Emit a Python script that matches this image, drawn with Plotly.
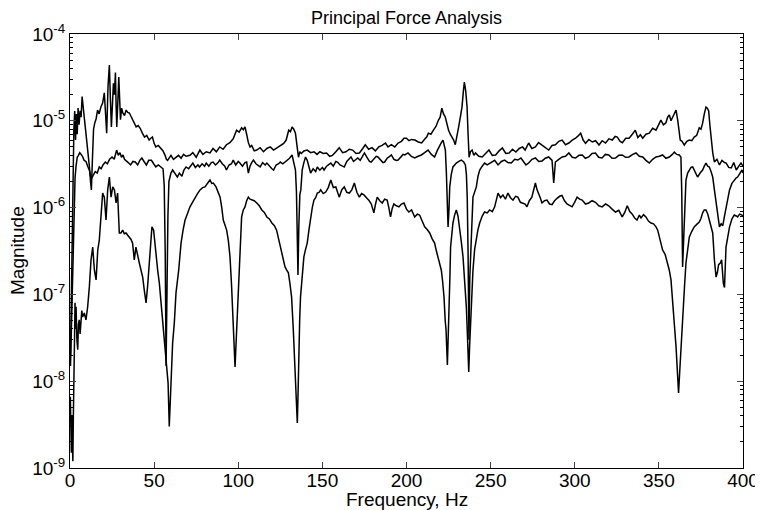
import plotly.graph_objects as go

# ---- data (frequency in Hz, magnitude) ----
freq_a = [0.3,0.8,1.3,1.8,2.3,2.8,3.3,3.8,4.3,4.8,5.4,6.0,6.6,7.2,7.8,8.5,9.5,10.5,11.5,12.2,12.7,13.3,14.0,14.7,15.5,16.4,17.3,18.4,19.4,20.4,21.1,21.8,22.6,23.4,24.0,24.6,25.2,25.8,26.4,27.0,27.4,27.8,28.4,29.0,29.5,30.0,30.7,31.4,32.4,33.4,34.3,35.3,36.3,37.3,38.3,39.3,40.5,41.7,43.0,44.3,45.6,47.0,48.0,49.0,50.0,51.0,52.5,54.0,55.3,56.5,57.3,58.0,59.0,60.0,61.5,63.0,64.5,66.0,67.5,69.0,71.3,73.0,75.0,77.2,79.0,81.0,83.2,85.0,87.0,89.0,91.0,93.0,95.0,97.0,99.0,100.5,102.0,103.0,104.0,105.0,106.0,107.0,108.0,109.5,111.0,113.0,115.0,117.0,119.0,121.0,123.0,125.0,127.0,128.5,130.0,131.0,132.0,133.0,134.0,135.0,135.8,136.6,137.5,139.0,141.0,143.0,145.0,146.8,148.5,150.5,152.5,154.3,156.0,158.0,160.0,162.0,164.0,166.0,168.0,170.0,172.0,174.0,175.5,177.5,179.5,181.5,183.5,185.5,187.5,189.0,191.0,193.0,195.0,197.0,198.5,200.0,201.5,203.0,205.0,207.0,209.0,211.0,212.0,213.0,214.5,216.0,217.5,219.0,220.0,221.0,222.0,223.0,224.0,225.0,226.0,227.0,228.0,229.0,230.0,231.0,232.0,233.0,233.8,234.4,235.2,236.0,236.6,237.2,238.0,239.0,240.0,241.0,243.0,245.0,247.0,249.0,251.0,253.0,255.0,257.0,259.0,261.0,263.0,265.0,267.0,269.0,270.5,272.6,274.5,276.6,278.5,280.6,282.5,284.5,286.5,288.5,290.5,292.5,294.5,296.5,298.5,300.5,302.0,303.5,305.0,306.4,308.4,310.4,312.4,314.4,316.3,318.3,320.3,322.3,324.0,325.3,327.0,328.3,330.3,332.3,334.2,336.0,337.5,339.0,340.4,342.3,344.3,346.3,348.3,350.0,351.2,352.7,354.2,355.2,356.2,357.2,358.2,359.2,360.2,361.2,362.0,362.7,363.8,365.1,366.6,368.1,369.6,371.0,372.5,374.0,375.0,376.0,377.0,378.0,378.8,379.6,380.3,381.0,382.0,383.0,384.5,386.0,387.5,389.0,390.0,391.5,393.0,394.5,396.0,397.5,398.8,400.0]
mag_a = [2e-8,1e-7,6e-7,3e-6,8e-6,1.3e-5,6e-6,1.2e-5,7e-6,1.4e-5,9e-6,1.3e-5,1.1e-5,1.9e-5,1.5e-5,1.0e-5,7.2e-6,5e-6,3e-6,2e-6,1.6e-6,3.5e-6,8e-6,9.4e-6,1.05e-5,1.33e-5,1.2e-5,1.45e-5,1.6e-5,2.1e-5,1.3e-5,7.2e-6,2.5e-5,4.4e-5,1.8e-5,8.5e-6,1.5e-5,2.7e-5,2e-5,3.6e-5,1.5e-5,8.5e-6,1.6e-5,3.2e-5,1.8e-5,1.03e-5,1.4e-5,1.23e-5,1.15e-5,1.33e-5,1.25e-5,1.23e-5,1.12e-5,1.03e-5,9.6e-6,8.5e-6,8.8e-6,8.2e-6,7.2e-6,6.5e-6,6.8e-6,6.0e-6,6.3e-6,6.5e-6,5.5e-6,5.0e-6,5.2e-6,4.8e-6,4.5e-6,4.0e-6,3.6e-6,3.5e-6,3.8e-6,4.0e-6,3.6e-6,3.8e-6,4.0e-6,3.7e-6,4.1e-6,3.9e-6,4.0e-6,4.3e-6,3.8e-6,4.6e-6,4.1e-6,4.4e-6,4.26e-6,4.8e-6,4.4e-6,5.0e-6,4.7e-6,5.3e-6,5.6e-6,6.2e-6,7.8e-6,7.4e-6,8.3e-6,7.9e-6,8.5e-6,7.0e-6,5.6e-6,5.0e-6,5.2e-6,4.5e-6,4.6e-6,4.9e-6,4.4e-6,4.8e-6,5.0e-6,4.6e-6,4.9e-6,5.2e-6,5.5e-6,6.0e-6,7.8e-6,7.5e-6,8.5e-6,8.0e-6,7.2e-6,5.0e-6,3.8e-6,4.4e-6,4.2e-6,4.5e-6,4.6e-6,4.3e-6,4.4e-6,4.1e-6,4.4e-6,4.2e-6,4.26e-6,3.9e-6,4.0e-6,4.4e-6,4.9e-6,4.3e-6,4.4e-6,4.7e-6,4.6e-6,4.2e-6,4.26e-6,4.8e-6,5.3e-6,4.7e-6,4.9e-6,4.5e-6,5.0e-6,5.2e-6,5.55e-6,5.0e-6,5.3e-6,5.0e-6,5.55e-6,5.8e-6,6.3e-6,6.3e-6,5.9e-6,6.1e-6,6.0e-6,5.7e-6,5.55e-6,6.2e-6,6.5e-6,7.2e-6,7.0e-6,7.8e-6,8.6e-6,1.02e-5,1.1e-5,1.4e-5,1.2e-5,1.11e-5,9.0e-6,7.8e-6,7.0e-6,6.5e-6,6.0e-6,5.3e-6,6.5e-6,8.5e-6,1.1e-5,1.45e-5,2.2e-5,2.8e-5,2.2e-5,1.44e-5,7e-6,3.8e-6,4.4e-6,4.6e-6,4.0e-6,4.26e-6,3.9e-6,3.83e-6,4.2e-6,4.6e-6,4.0e-6,4.04e-6,4.5e-6,4.86e-6,4.2e-6,4.26e-6,4.7e-6,4.37e-6,4.8e-6,5.0e-6,4.6e-6,5.55e-6,4.8e-6,5.0e-6,5.6e-6,5.26e-6,4.9e-6,4.6e-6,5.2e-6,5.3e-6,5.8e-6,6.0e-6,5.3e-6,5.55e-6,6.0e-6,6.3e-6,6.7e-6,7.2e-6,6.0e-6,5.5e-6,6.1e-6,5.7e-6,5.9e-6,5.26e-6,5.9e-6,5.55e-6,6.2e-6,6.0e-6,6.6e-6,6.5e-6,5.8e-6,5.6e-6,6.3e-6,6.3e-6,7.0e-6,7.8e-6,6.4e-6,6.9e-6,6.3e-6,7.0e-6,7.2e-6,8.2e-6,7.8e-6,9.0e-6,1.02e-5,9.0e-6,9.5e-6,1.1e-5,1.17e-5,1.0e-5,1.11e-5,1.2e-5,1.33e-5,1.02e-5,7.5e-6,6.0e-6,5.8e-6,5.26e-6,5.8e-6,6.0e-6,5.9e-6,6.5e-6,6.8e-6,8.3e-6,8.0e-6,9.4e-6,1.2e-5,1.44e-5,1.4e-5,1.3e-5,9e-6,6.0e-6,4.3e-6,3.35e-6,3.6e-6,3.1e-6,3.5e-6,3.3e-6,3.26e-6,2.9e-6,2.86e-6,3.3e-6,2.71e-6,3.0e-6,3.26e-6,3.0e-6]

freq_b = [0.3,0.8,1.3,1.8,2.4,3.0,3.6,4.3,5.0,5.8,6.6,7.4,8.4,9.5,10.5,11.5,12.3,13.0,14.0,15.0,16.2,17.4,18.5,19.6,21.0,22.2,23.5,25.0,26.3,27.7,28.7,29.7,30.6,31.5,32.4,33.3,34.6,36.0,37.4,38.8,40.2,41.5,42.7,44.0,45.4,46.8,48.4,49.7,51.0,52.5,54.0,55.3,56.0,56.6,57.1,57.6,58.2,58.8,60.0,61.0,62.5,63.8,65.0,66.5,67.7,69.0,70.5,72.0,73.0,74.5,76.0,77.0,78.5,80.0,81.0,82.5,84.0,85.0,86.5,88.0,89.0,90.5,92.0,93.0,94.5,96.0,97.0,98.5,100.0,101.0,102.5,104.0,105.0,106.0,107.0,108.0,109.0,110.5,112.0,113.0,114.5,116.0,117.0,118.5,120.0,121.0,122.5,124.0,125.0,126.5,128.0,129.0,130.5,132.0,133.0,134.0,134.6,135.1,135.5,136.0,136.6,137.2,138.0,139.0,140.0,141.0,142.0,143.0,144.5,146.0,147.0,148.5,150.0,151.0,152.5,154.0,155.0,156.5,158.0,159.0,160.5,162.0,163.0,164.5,166.0,167.0,168.5,170.0,171.0,172.5,174.0,175.0,176.5,178.0,179.0,180.5,182.0,183.0,184.5,186.0,187.0,188.5,190.0,191.0,192.5,194.0,195.0,196.5,198.0,199.0,200.9,202.9,204.9,206.9,208.8,210.8,212.8,214.8,216.7,218.2,219.7,220.7,221.7,222.5,223.1,223.7,224.1,224.7,225.2,225.7,226.6,227.6,228.6,229.6,231.1,232.6,234.0,235.0,235.6,236.1,236.6,237.1,237.6,238.1,238.8,239.5,240.5,241.5,242.5,243.5,245.0,246.4,248.0,250.4,252.4,254.4,256.4,258.3,260.3,262.3,264.3,266.2,268.0,269.5,271.0,272.6,274.6,276.6,278.6,280.6,282.5,284.5,286.5,287.5,288.5,290.5,292.5,294.5,296.5,298.5,300.5,302.5,304.5,306.3,308.3,310.3,312.3,314.2,316.2,318.2,320.2,322.2,324.2,326.2,328.2,330.2,332.2,334.5,336.4,338.4,340.4,342.3,344.3,346.3,348.3,350.3,352.2,354.2,356.2,358.0,359.2,360.6,362.1,363.1,363.6,364.1,364.6,365.1,365.6,366.1,367.1,368.1,369.1,370.1,371.5,373.0,374.5,376.0,377.0,378.0,379.0,380.0,381.0,382.0,383.0,384.0,385.0,386.0,387.0,388.0,389.0,390.0,391.0,392.0,393.4,394.8,396.0,396.8,398.0,399.4,400.0]
mag_b = [1.5e-8,4e-8,1.2e-7,4e-7,1.2e-6,2.2e-6,3.0e-6,3.8e-6,4.0e-6,4.3e-6,4.1e-6,3.9e-6,3.5e-6,3.4e-6,3.0e-6,2.7e-6,2.3e-6,2.2e-6,2.4e-6,2.6e-6,2.5e-6,2.94e-6,2.8e-6,3.1e-6,3.35e-6,3.2e-6,3.6e-6,3.83e-6,3.6e-6,4.6e-6,4.0e-6,4.3e-6,3.8e-6,4.04e-6,3.6e-6,3.5e-6,3.3e-6,3.1e-6,3.4e-6,3.35e-6,3.1e-6,3.5e-6,3.73e-6,3.4e-6,3.1e-6,3.5e-6,3.5e-6,3.2e-6,2.94e-6,3.1e-6,2.9e-6,2.8e-6,1.8e-6,3e-7,1.5e-8,1.5e-7,8e-7,2.0e-6,2.5e-6,2.71e-6,2.4e-6,2.25e-6,2.5e-6,2.3e-6,2.7e-6,2.94e-6,2.8e-6,3.1e-6,3.26e-6,2.9e-6,3.1e-6,2.94e-6,3.2e-6,3.0e-6,3.26e-6,3.0e-6,3.3e-6,3.35e-6,3.1e-6,3.3e-6,3.53e-6,3.2e-6,3.0e-6,2.71e-6,3.1e-6,3.2e-6,3.53e-6,3.1e-6,3.4e-6,3.26e-6,3.0e-6,3.3e-6,3.35e-6,2.5e-6,3.0e-6,3.3e-6,3.53e-6,3.2e-6,3.0e-6,2.94e-6,3.3e-6,3.1e-6,3.26e-6,3.0e-6,2.8e-6,2.71e-6,3.1e-6,3.2e-6,3.35e-6,3.2e-6,3.4e-6,3.53e-6,3.7e-6,4.04e-6,3.4e-6,2.7e-6,1.5e-6,5e-7,1.67e-7,6e-7,1.4e-6,1.6e-6,2.71e-6,3.3e-6,3.83e-6,3.5e-6,2.9e-6,2.5e-6,2.8e-6,2.6e-6,2.94e-6,2.7e-6,2.9e-6,2.71e-6,3.0e-6,3.2e-6,3.26e-6,3.0e-6,3.4e-6,3.35e-6,3.1e-6,3.0e-6,2.94e-6,3.4e-6,3.6e-6,3.83e-6,3.4e-6,3.6e-6,3.73e-6,3.5e-6,3.9e-6,4.26e-6,3.8e-6,3.4e-6,3.35e-6,3.6e-6,3.9e-6,3.83e-6,3.5e-6,3.3e-6,3.35e-6,3.7e-6,3.9e-6,4.04e-6,3.6e-6,3.5e-6,3.53e-6,3.8e-6,4.1e-6,4.04e-6,4.26e-6,3.9e-6,3.73e-6,3.9e-6,4.04e-6,4.3e-6,4.6e-6,4.1e-6,3.83e-6,4.5e-6,5.26e-6,5.6e-6,6.0e-6,5.3e-6,4.6e-6,2.5e-6,1.32e-6,6.0e-7,9e-7,1.73e-6,2.4e-6,2.94e-6,3.1e-6,3.26e-6,3.4e-6,3.53e-6,3.35e-6,3.1e-6,2.4e-6,1.32e-6,3e-7,3.0e-8,1.5e-7,2.3e-7,6e-7,1.32e-6,1.5e-6,1.73e-6,2.3e-6,2.71e-6,3.0e-6,3.26e-6,3.1e-6,3.35e-6,3.5e-6,3.1e-6,3.4e-6,3.53e-6,3.3e-6,3.26e-6,3.6e-6,3.53e-6,3.73e-6,3.4e-6,3.1e-6,3.26e-6,3.6e-6,3.73e-6,3.4e-6,3.45e-6,3.7e-6,3.83e-6,3.5e-6,1.92e-6,3.35e-6,3.6e-6,3.83e-6,3.9e-6,4.26e-6,3.8e-6,3.73e-6,4.0e-6,4.04e-6,3.7e-6,3.83e-6,4.2e-6,4.26e-6,3.8e-6,3.73e-6,4.1e-6,4.04e-6,3.7e-6,3.73e-6,4.0e-6,4.04e-6,3.8e-6,3.83e-6,4.1e-6,4.26e-6,3.9e-6,3.83e-6,3.5e-6,3.26e-6,3.6e-6,3.83e-6,3.9e-6,4.04e-6,3.7e-6,3.83e-6,4.1e-6,4.37e-6,4.1e-6,4.04e-6,3.83e-6,1.5e-6,2.07e-7,3.5e-7,4.6e-7,1.2e-6,2.08e-6,2.5e-6,2.71e-6,2.9e-6,2.94e-6,2.6e-6,2.25e-6,2.5e-6,2.71e-6,3.0e-6,3.26e-6,3.0e-6,2.94e-6,2.6e-6,2.25e-6,1.6e-6,1.13e-6,7.5e-7,6.0e-7,6.5e-7,6.2e-7,8e-7,1.02e-6,1.3e-6,1.6e-6,1.9e-6,2.08e-6,2.2e-6,2.25e-6,2.5e-6,2.71e-6,2.5e-6]

freq_c = [0.2,0.5,0.8,1.1,1.4,1.7,2.0,2.3,2.6,3.0,3.3,3.6,4.1,4.6,5.0,5.5,6.0,6.5,7.0,7.5,8.5,9.5,10.5,11.5,12.5,13.5,14.5,15.5,16.5,17.4,18.4,19.4,20.4,21.4,22.4,23.4,24.4,25.4,26.4,27.4,28.3,29.3,30.3,31.3,32.3,33.3,34.3,35.3,36.3,37.2,38.2,39.2,40.2,41.2,42.2,43.2,44.2,45.2,46.1,47.5,48.7,49.7,50.4,51.1,52.1,53.1,54.0,55.0,56.0,56.7,57.6,58.3,59.0,59.6,60.2,61.0,62.0,63.0,64.6,66.0,67.2,68.4,69.8,71.3,72.8,74.3,75.8,77.3,78.8,80.2,81.7,83.2,84.2,85.2,86.8,88.0,89.2,90.2,91.1,92.1,93.1,94.1,95.1,96.0,96.7,97.4,98.1,98.8,99.5,100.0,100.6,101.3,102.0,103.0,104.0,105.0,106.0,107.0,108.0,109.5,111.0,112.5,114.0,115.5,117.0,118.5,120.0,121.5,122.8,124.0,124.8,126.3,127.8,128.8,129.8,130.8,131.7,132.7,133.7,134.5,135.1,135.6,136.0,136.5,137.0,138.0,139.0,140.0,141.0,142.0,143.0,144.0,145.0,146.0,147.0,148.0,149.0,150.5,152.0,153.5,155.0,156.5,158.0,159.0,160.0,161.5,163.0,164.5,166.0,167.5,169.0,170.5,172.0,173.3,174.7,176.2,177.6,179.1,180.6,181.6,182.6,184.1,185.6,187.0,188.5,189.5,190.5,191.5,192.5,194.0,195.5,197.0,198.5,200.0,201.4,203.0,204.9,206.4,207.8,209.3,210.8,212.3,213.8,215.2,216.7,217.7,218.7,219.7,220.7,221.5,222.3,223.0,223.5,224.3,224.8,225.3,225.8,226.2,226.9,227.6,228.6,229.6,230.6,231.6,232.6,233.6,234.3,235.0,235.6,236.1,237.0,237.5,238.0,238.8,239.5,240.5,241.5,242.5,243.5,245.0,246.4,248.0,249.4,251.0,252.4,253.4,254.4,255.9,257.3,258.8,260.3,261.8,263.3,264.8,266.2,267.7,269.2,270.5,271.6,273.0,274.5,275.6,276.6,277.6,278.5,279.5,280.5,282.0,283.5,285.0,286.5,288.0,289.5,291.0,292.4,293.9,295.4,296.9,298.4,299.9,301.4,302.9,304.4,306.4,308.3,310.3,312.3,314.3,316.3,318.3,320.2,322.2,324.2,326.2,328.2,329.7,331.2,332.7,334.2,335.6,337.0,338.4,339.4,340.9,342.3,343.8,345.3,346.8,348.3,349.3,350.3,351.3,352.2,353.7,355.2,356.2,357.2,358.6,359.4,360.2,361.0,361.7,362.4,363.1,363.8,364.5,365.3,366.1,367.1,368.1,369.5,371.0,372.5,374.0,375.0,376.0,377.0,378.0,379.0,380.0,381.0,382.0,383.0,384.0,384.8,385.5,386.5,387.3,388.3,389.0,389.9,391.0,392.0,393.4,394.8,396.0,396.8,398.0,399.4,400.0]
mag_c = [6.6e-9,2.5e-9,1.5e-9,4e-9,2e-9,1.2e-9,4e-9,1.5e-8,3.5e-8,8e-8,4e-8,7.2e-8,3e-8,2.3e-8,4.5e-8,5.1e-8,3.5e-8,4.7e-8,6.5e-8,5.5e-8,6.1e-8,5.1e-8,7.2e-8,1.22e-7,2.5e-7,3.5e-7,1.9e-7,1.47e-7,3.25e-7,4.2e-7,9.4e-7,1.47e-6,1.32e-6,7.2e-7,1.6e-6,2.25e-6,1.32e-6,1.73e-6,1.6e-6,1.13e-6,1.47e-6,5.1e-7,5.1e-7,5.5e-7,5.0e-7,5.1e-7,4.8e-7,4.6e-7,4.3e-7,3.9e-7,2.5e-7,3.5e-7,2.7e-7,2.3e-7,1.9e-7,1.58e-7,1.1e-7,8.0e-8,1.22e-7,3.25e-7,6.0e-7,5.5e-7,4e-7,2.7e-7,1.9e-7,1.35e-7,8.5e-8,5.5e-8,3.5e-8,2.5e-8,1.62e-8,9.5e-9,3.0e-9,6e-9,9.5e-9,2.75e-8,4.7e-8,1.04e-7,1.9e-7,3.9e-7,5.5e-7,7.2e-7,8.5e-7,1.02e-6,1.15e-6,1.32e-6,1.45e-6,1.6e-6,1.7e-6,1.73e-6,1.9e-6,2.08e-6,1.9e-6,1.92e-6,1.73e-6,1.5e-6,1.32e-6,1.0e-6,7.2e-7,6.3e-7,5.5e-7,4.2e-7,2.7e-7,1.3e-7,6.1e-8,3e-8,1.46e-8,3e-8,6.1e-8,1.2e-7,2.3e-7,4.5e-7,7.8e-7,9.4e-7,1.02e-6,1.2e-6,1.32e-6,1.25e-6,1.22e-6,1.2e-6,1.13e-6,1.05e-6,9.4e-7,8.8e-7,7.8e-7,7.4e-7,6.65e-7,6.2e-7,5.5e-7,4.4e-7,3.5e-7,2.7e-7,2.07e-7,1.9e-7,1.77e-7,1.3e-7,9.3e-8,4e-8,1.62e-8,7e-9,3.3e-9,8e-9,2.5e-8,5e-8,9.3e-8,1.8e-7,2.7e-7,3.3e-7,3.9e-7,5.5e-7,7.8e-7,1.0e-6,1.22e-6,1.3e-6,1.47e-6,1.5e-6,1.6e-6,1.45e-6,1.51e-6,1.7e-6,2.08e-6,1.7e-6,1.73e-6,1.5e-6,1.32e-6,1.6e-6,1.73e-6,1.5e-6,1.47e-6,1.6e-6,1.92e-6,1.5e-6,1.32e-6,1.45e-6,1.4e-6,1.3e-6,1.22e-6,1.1e-6,8.7e-7,1.1e-6,1.32e-6,1.2e-6,1.13e-6,1.25e-6,1.22e-6,1.0e-6,7.8e-7,9.8e-7,1.1e-6,1.05e-6,1.02e-6,1.1e-6,1.13e-6,9.6e-7,8.9e-7,9.4e-7,7.8e-7,8.4e-7,8.2e-7,7.0e-7,6.0e-7,5.6e-7,5.1e-7,4.4e-7,3.9e-7,3.2e-7,2.7e-7,2.2e-7,1.9e-7,1.4e-7,9.3e-8,5e-8,3.9e-8,1.54e-8,3e-8,6.1e-8,1.6e-7,3.5e-7,5.5e-7,6.65e-7,8.2e-7,9.4e-7,8e-7,6.0e-7,4.0e-7,2.7e-7,1.8e-7,1.12e-7,7e-8,3.9e-8,1.28e-8,2.5e-8,4.7e-8,1.1e-7,1.9e-7,3.3e-7,4.6e-7,5.6e-7,6.65e-7,8.0e-7,8.9e-7,8.7e-7,9.4e-7,9.0e-7,1.02e-6,1.2e-6,1.47e-6,1.3e-6,1.4e-6,1.25e-6,1.47e-6,1.3e-6,1.22e-6,1.35e-6,1.32e-6,1.15e-6,1.13e-6,1.1e-6,1.02e-6,1.2e-6,1.32e-6,1.6e-6,1.92e-6,1.6e-6,1.47e-6,1.3e-6,1.13e-6,1.2e-6,1.22e-6,1.1e-6,1.08e-6,1.2e-6,1.28e-6,1.35e-6,1.38e-6,1.2e-6,1.1e-6,1.05e-6,1.02e-6,1.15e-6,1.32e-6,1.25e-6,1.22e-6,1.1e-6,1.13e-6,1.2e-6,1.15e-6,1.05e-6,1.02e-6,1.1e-6,1.05e-6,9.6e-7,8.9e-7,9.3e-7,7.8e-7,8.8e-7,1.05e-6,9.0e-7,8.4e-7,7.6e-7,7.2e-7,8.2e-7,7.6e-7,8.3e-7,7.8e-7,7.0e-7,6.65e-7,6.5e-7,6.0e-7,5.5e-7,4.6e-7,3.9e-7,3.25e-7,2.9e-7,2.3e-7,1.9e-7,1.47e-7,7.2e-8,4e-8,2.5e-8,1.3e-8,7.3e-9,1.3e-8,2.5e-8,4.5e-8,7.2e-8,1.3e-7,2.3e-7,3.5e-7,4.6e-7,5.3e-7,6.0e-7,6.4e-7,6.8e-7,7.5e-7,8.7e-7,9.4e-7,9.4e-7,8.5e-7,7.2e-7,6.2e-7,5.1e-7,2.5e-7,1.58e-7,1.8e-7,2.2e-7,2.3e-7,2.5e-7,1.35e-7,1.2e-7,3.5e-7,5e-7,6.0e-7,7.4e-7,8.2e-7,8.0e-7,7.8e-7,8.4e-7,8.2e-7,7.8e-7]

x_ticks = [0, 50, 100, 150, 200, 250, 300, 350, 400]
y_exponents = [-9, -8, -7, -6, -5, -4]
y_tick_vals = [10.0 ** e for e in y_exponents]
y_tick_text = ["10<sup>%d</sup>" % e for e in y_exponents]
y_minor_vals = [m * 10.0 ** e for e in y_exponents[:-1] for m in range(2, 10)]

FONT = "Liberation Sans, Arial, sans-serif"

fig = go.Figure()
for fx, my in ((freq_a, mag_a), (freq_b, mag_b), (freq_c, mag_c)):
    fig.add_trace(go.Scatter(x=fx, y=my, mode="lines",
                             line=dict(color="black", width=1.5),
                             showlegend=False, hoverinfo="skip"))

# the page body adds an 8px margin, so the figure is 8px smaller than the window
fig.update_layout(
    width=755, height=502,
    margin=dict(l=62, r=20, t=26, b=42, autoexpand=False),
    paper_bgcolor="white", plot_bgcolor="white",
    font=dict(family=FONT, color="black", size=19),
    title=dict(text="Principal Force Analysis", x=0.5, xref="paper",
               y=0.993, yanchor="top", pad=dict(t=0, b=0),
               font=dict(size=18, family=FONT)),
)
fig.update_xaxes(
    range=[0, 400], tickvals=x_ticks, ticks="inside", ticklen=6,
    showline=True, linecolor="black", linewidth=1.2, mirror="ticks",
    showgrid=False, zeroline=False, tickfont=dict(size=19), automargin=False,
    ticklabelstandoff=-5,
)
fig.update_yaxes(
    type="log", range=[-9, -4], tickvals=y_tick_vals, ticktext=y_tick_text,
    ticks="inside", ticklen=6,
    minor=dict(tickvals=y_minor_vals, ticks="inside", ticklen=3,
               tickcolor="black", showgrid=False),
    showline=True, linecolor="black", linewidth=1.2, mirror="ticks",
    showgrid=False, zeroline=False, tickfont=dict(size=19), automargin=False,
)
fig.add_annotation(text="Frequency, Hz", xref="paper", yref="paper",
                   x=0.5, y=0, yanchor="middle", yshift=-31, showarrow=False,
                   font=dict(size=19, family=FONT))
fig.add_annotation(text="Magnitude", xref="paper", yref="paper",
                   x=0, y=0.5, xanchor="center", xshift=-53, textangle=-90,
                   showarrow=False, font=dict(size=19, family=FONT))

fig.write_html("out.html")
